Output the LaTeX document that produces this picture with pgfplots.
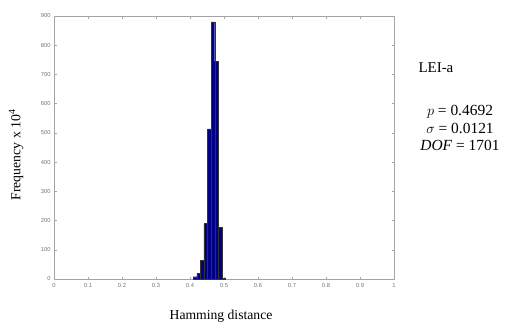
\documentclass[border=0pt]{standalone}
\usepackage{fontspec}
\setmainfont{Liberation Serif}
\newfontfamily\tickfont{Liberation Sans}
\usepackage{pgfplots}
\pgfplotsset{compat=1.18}
\definecolor{barblue}{RGB}{0,0,135}
\definecolor{framegray}{RGB}{165,165,165}
\begin{document}
\begin{tikzpicture}[x=1bp,y=1bp]
\useasboundingbox (0,0) rectangle (507,325);
\begin{axis}[
  at={(54bp,46bp)}, anchor=south west,
  scale only axis, width=340bp, height=263bp,
  xmin=0, xmax=1, ymin=0, ymax=900,
  xtick={0,0.1,...,1}, ytick={0,100,...,900},
  xticklabels={0,0.1,0.2,0.3,0.4,0.5,0.6,0.7,0.8,0.9,1},
  tick align=inside, tick pos=both,
  major tick length=2.5bp,
  axis line style={framegray, line width=0.6pt},
  every tick/.style={framegray, line width=0.5pt},
  tick label style={font=\tickfont\fontsize{5.8}{7}\selectfont, text=black!55},
  /pgf/number format/assume math mode=true,
  scaled ticks=false,
  xticklabel style={yshift=-1bp},
]
\addplot[ybar interval, fill=barblue, draw=black!80, line width=0.3pt] coordinates {
(0.4095,8) (0.42,20) (0.4305,65) (0.441,190) (0.4515,514) (0.462,880) (0.4725,745) (0.483,177) (0.4935,3) (0.504,3)
};
\end{axis}
\node[rotate=90, font=\fontsize{13.8}{15}\selectfont] at (16bp,170bp) {Frequency x 10\textsuperscript{4}};
\node[font=\fontsize{13.7}{15}\selectfont] at (221bp,9bp) {Hamming distance};
\node[font=\fontsize{15}{17}\selectfont, anchor=west] at (415bp,257bp) {LEI-a};
\node[font=\fontsize{15.5}{17.5}\selectfont, align=center] at (460bp,197bp) {$p$ = 0.4692\\ $\sigma$ = 0.0121\\ \textit{DOF} = 1701};
\end{tikzpicture}
\end{document}
